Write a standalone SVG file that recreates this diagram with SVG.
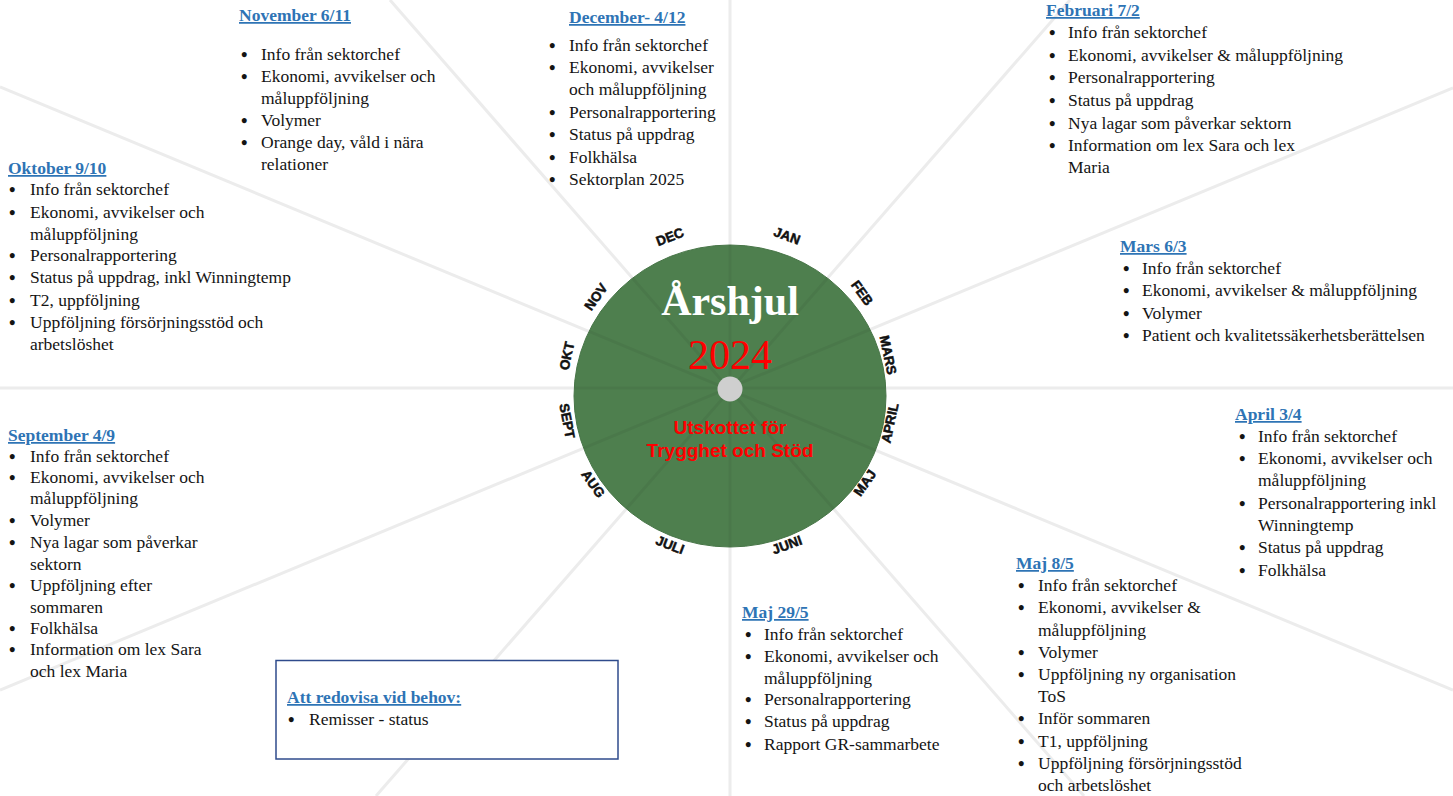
<svg xmlns="http://www.w3.org/2000/svg" width="1453" height="796" viewBox="0 0 1453 796">
<style>
.t{font-family:"Liberation Serif",serif;font-size:17.5px;fill:#141414}
.b{font-family:"Liberation Serif",serif;font-size:18.5px;font-weight:bold;fill:#141414}
.h{font-family:"Liberation Serif",serif;font-size:17.5px;font-weight:bold;fill:#2e74b5;text-decoration:underline}
.m{font-family:"Liberation Sans",sans-serif;font-weight:bold;font-size:13.5px;fill:#111;stroke:#111;stroke-width:0.5;text-anchor:middle;dominant-baseline:central}
.sp{stroke:#ececec;stroke-width:3;fill:none}
.spi{stroke:#000;stroke-opacity:0.05;stroke-width:3;fill:none}
</style>
<defs>
<clipPath id="wc"><ellipse cx="730" cy="396" rx="156" ry="151"/></clipPath>
</defs>
<rect width="1453" height="796" fill="#fff"/>
<g id="spokes">
<line class="sp" x1="0" y1="388" x2="1453" y2="388"/>
<line class="sp" x1="730" y1="0" x2="730" y2="796"/>
<line class="sp" x1="0" y1="87" x2="1453" y2="690"/>
<line class="sp" x1="0" y1="690" x2="1453" y2="88"/>
<line class="sp" x1="390" y1="0" x2="1084" y2="796"/>
<line class="sp" x1="1070" y1="0" x2="376" y2="796"/>
</g>
<g id="wheel">
<ellipse cx="730" cy="396" rx="156" ry="151" fill="#4e7f4e" stroke="#477547" stroke-width="1"/>
<g clip-path="url(#wc)">
<line class="spi" x1="0" y1="388" x2="1453" y2="388"/>
<line class="spi" x1="730" y1="0" x2="730" y2="796"/>
<line class="spi" x1="0" y1="87" x2="1453" y2="690"/>
<line class="spi" x1="0" y1="690" x2="1453" y2="88"/>
<line class="spi" x1="390" y1="0" x2="1084" y2="796"/>
<line class="spi" x1="1070" y1="0" x2="376" y2="796"/>
</g>
<circle cx="730" cy="389" r="12.5" fill="#cfcfcf"/>
<text x="730" y="315" text-anchor="middle" font-family="Liberation Serif, serif" font-weight="bold" font-size="42" fill="#fff">Årshjul</text>
<text x="730" y="369" text-anchor="middle" font-family="Liberation Serif, serif" font-size="42" fill="#ff0000">2024</text>
<text x="730" y="434" text-anchor="middle" font-family="Liberation Sans, sans-serif" font-weight="bold" font-size="19" fill="#ff0000">Utskottet för</text>
<text x="730" y="457" text-anchor="middle" font-family="Liberation Sans, sans-serif" font-weight="bold" font-size="19" fill="#ff0000">Trygghet och Stöd</text>
</g>
<g id="months">
<text class="m" transform="translate(670,237) rotate(-21)">DEC</text>
<text class="m" transform="translate(787,236) rotate(20)">JAN</text>
<text class="m" transform="translate(862,293) rotate(54)">FEB</text>
<text class="m" transform="translate(888,355) rotate(78)">MARS</text>
<text class="m" transform="translate(890,423) rotate(-78)">APRIL</text>
<text class="m" transform="translate(865,483) rotate(-55)">MAJ</text>
<text class="m" transform="translate(787,545) rotate(-20)">JUNI</text>
<text class="m" transform="translate(670,545) rotate(21)">JULI</text>
<text class="m" transform="translate(593,484) rotate(55)">AUG</text>
<text class="m" transform="translate(567,421) rotate(79)">SEPT</text>
<text class="m" transform="translate(567,356) rotate(-78)">OKT</text>
<text class="m" transform="translate(596,297) rotate(-55)">NOV</text>
</g>
<g id="november">
<text class="h" x="239" y="21">November 6/11</text>
<text class="b" x="241" y="61">•</text><text class="t" x="261" y="60">Info från sektorchef</text>
<text class="b" x="241" y="83">•</text><text class="t" x="261" y="82">Ekonomi, avvikelser och</text>
<text class="t" x="261" y="104">måluppföljning</text>
<text class="b" x="241" y="127">•</text><text class="t" x="261" y="126">Volymer</text>
<text class="b" x="241" y="149">•</text><text class="t" x="261" y="148">Orange day, våld i nära</text>
<text class="t" x="261" y="170">relationer</text>
</g>
<g id="december">
<text class="h" x="569" y="23">December- 4/12</text>
<text class="b" x="549" y="52">•</text><text class="t" x="569" y="51">Info från sektorchef</text>
<text class="b" x="549" y="74">•</text><text class="t" x="569" y="73">Ekonomi, avvikelser</text>
<text class="t" x="569" y="95">och måluppföljning</text>
<text class="b" x="549" y="119">•</text><text class="t" x="569" y="118">Personalrapportering</text>
<text class="b" x="549" y="141">•</text><text class="t" x="569" y="140">Status på uppdrag</text>
<text class="b" x="549" y="164">•</text><text class="t" x="569" y="163">Folkhälsa</text>
<text class="b" x="549" y="186">•</text><text class="t" x="569" y="185">Sektorplan 2025</text>
</g>
<g id="februari">
<text class="h" x="1046" y="16">Februari 7/2</text>
<text class="b" x="1049" y="39">•</text><text class="t" x="1068" y="38">Info från sektorchef</text>
<text class="b" x="1049" y="62">•</text><text class="t" x="1068" y="61">Ekonomi, avvikelser &amp; måluppföljning</text>
<text class="b" x="1049" y="84">•</text><text class="t" x="1068" y="83">Personalrapportering</text>
<text class="b" x="1049" y="107">•</text><text class="t" x="1068" y="106">Status på uppdrag</text>
<text class="b" x="1049" y="130">•</text><text class="t" x="1068" y="129">Nya lagar som påverkar sektorn</text>
<text class="b" x="1049" y="152">•</text><text class="t" x="1068" y="151">Information om lex Sara och lex</text>
<text class="t" x="1068" y="173">Maria</text>
</g>
<g id="oktober">
<text class="h" x="8" y="174">Oktober 9/10</text>
<text class="b" x="9" y="196">•</text><text class="t" x="30" y="195">Info från sektorchef</text>
<text class="b" x="9" y="219">•</text><text class="t" x="30" y="218">Ekonomi, avvikelser och</text>
<text class="t" x="30" y="240">måluppföljning</text>
<text class="b" x="9" y="262">•</text><text class="t" x="30" y="261">Personalrapportering</text>
<text class="b" x="9" y="284">•</text><text class="t" x="30" y="283">Status på uppdrag, inkl Winningtemp</text>
<text class="b" x="9" y="307">•</text><text class="t" x="30" y="306">T2, uppföljning</text>
<text class="b" x="9" y="329">•</text><text class="t" x="30" y="328">Uppföljning försörjningsstöd och</text>
<text class="t" x="30" y="350">arbetslöshet</text>
</g>
<g id="mars">
<text class="h" x="1120" y="252">Mars 6/3</text>
<text class="b" x="1123" y="275">•</text><text class="t" x="1142" y="274">Info från sektorchef</text>
<text class="b" x="1123" y="297">•</text><text class="t" x="1142" y="296">Ekonomi, avvikelser &amp; måluppföljning</text>
<text class="b" x="1123" y="320">•</text><text class="t" x="1142" y="319">Volymer</text>
<text class="b" x="1123" y="342">•</text><text class="t" x="1142" y="341">Patient och kvalitetssäkerhetsberättelsen</text>
</g>
<g id="september">
<text class="h" x="8" y="441">September 4/9</text>
<text class="b" x="9" y="463">•</text><text class="t" x="30" y="462">Info från sektorchef</text>
<text class="b" x="9" y="484">•</text><text class="t" x="30" y="483">Ekonomi, avvikelser och</text>
<text class="t" x="30" y="504">måluppföljning</text>
<text class="b" x="9" y="527">•</text><text class="t" x="30" y="526">Volymer</text>
<text class="b" x="9" y="549">•</text><text class="t" x="30" y="548">Nya lagar som påverkar</text>
<text class="t" x="30" y="570">sektorn</text>
<text class="b" x="9" y="592">•</text><text class="t" x="30" y="591">Uppföljning efter</text>
<text class="t" x="30" y="613">sommaren</text>
<text class="b" x="9" y="635">•</text><text class="t" x="30" y="634">Folkhälsa</text>
<text class="b" x="9" y="656">•</text><text class="t" x="30" y="655">Information om lex Sara</text>
<text class="t" x="30" y="677">och lex Maria</text>
</g>
<g id="april">
<text class="h" x="1235" y="420">April 3/4</text>
<text class="b" x="1239" y="443">•</text><text class="t" x="1258" y="442">Info från sektorchef</text>
<text class="b" x="1239" y="465">•</text><text class="t" x="1258" y="464">Ekonomi, avvikelser och</text>
<text class="t" x="1258" y="486">måluppföljning</text>
<text class="b" x="1239" y="510">•</text><text class="t" x="1258" y="509">Personalrapportering inkl</text>
<text class="t" x="1258" y="531">Winningtemp</text>
<text class="b" x="1239" y="554">•</text><text class="t" x="1258" y="553">Status på uppdrag</text>
<text class="b" x="1239" y="577">•</text><text class="t" x="1258" y="576">Folkhälsa</text>
</g>
<g id="maj85">
<text class="h" x="1016" y="569">Maj 8/5</text>
<text class="b" x="1018" y="592">•</text><text class="t" x="1038" y="591">Info från sektorchef</text>
<text class="b" x="1018" y="614">•</text><text class="t" x="1038" y="613">Ekonomi, avvikelser &amp;</text>
<text class="t" x="1038" y="636">måluppföljning</text>
<text class="b" x="1018" y="659">•</text><text class="t" x="1038" y="658">Volymer</text>
<text class="b" x="1018" y="681">•</text><text class="t" x="1038" y="680">Uppföljning ny organisation</text>
<text class="t" x="1038" y="702">ToS</text>
<text class="b" x="1018" y="725">•</text><text class="t" x="1038" y="724">Inför sommaren</text>
<text class="b" x="1018" y="748">•</text><text class="t" x="1038" y="747">T1, uppföljning</text>
<text class="b" x="1018" y="770">•</text><text class="t" x="1038" y="769">Uppföljning försörjningsstöd</text>
<text class="t" x="1038" y="791">och arbetslöshet</text>
</g>
<g id="maj295">
<text class="h" x="742" y="618">Maj 29/5</text>
<text class="b" x="745" y="641">•</text><text class="t" x="764" y="640">Info från sektorchef</text>
<text class="b" x="745" y="663">•</text><text class="t" x="764" y="662">Ekonomi, avvikelser och</text>
<text class="t" x="764" y="684">måluppföljning</text>
<text class="b" x="745" y="706">•</text><text class="t" x="764" y="705">Personalrapportering</text>
<text class="b" x="745" y="728">•</text><text class="t" x="764" y="727">Status på uppdrag</text>
<text class="b" x="745" y="751">•</text><text class="t" x="764" y="750">Rapport GR-sammarbete</text>
</g>
<g id="behov">
<rect x="276" y="660.5" width="342" height="98.5" fill="#fff" stroke="#2f4b8c" stroke-width="1.5"/>
<text class="h" x="287" y="703">Att redovisa vid behov:</text>
<text class="b" x="288" y="726">•</text><text class="t" x="309" y="725">Remisser - status</text>
</g>
</svg>
